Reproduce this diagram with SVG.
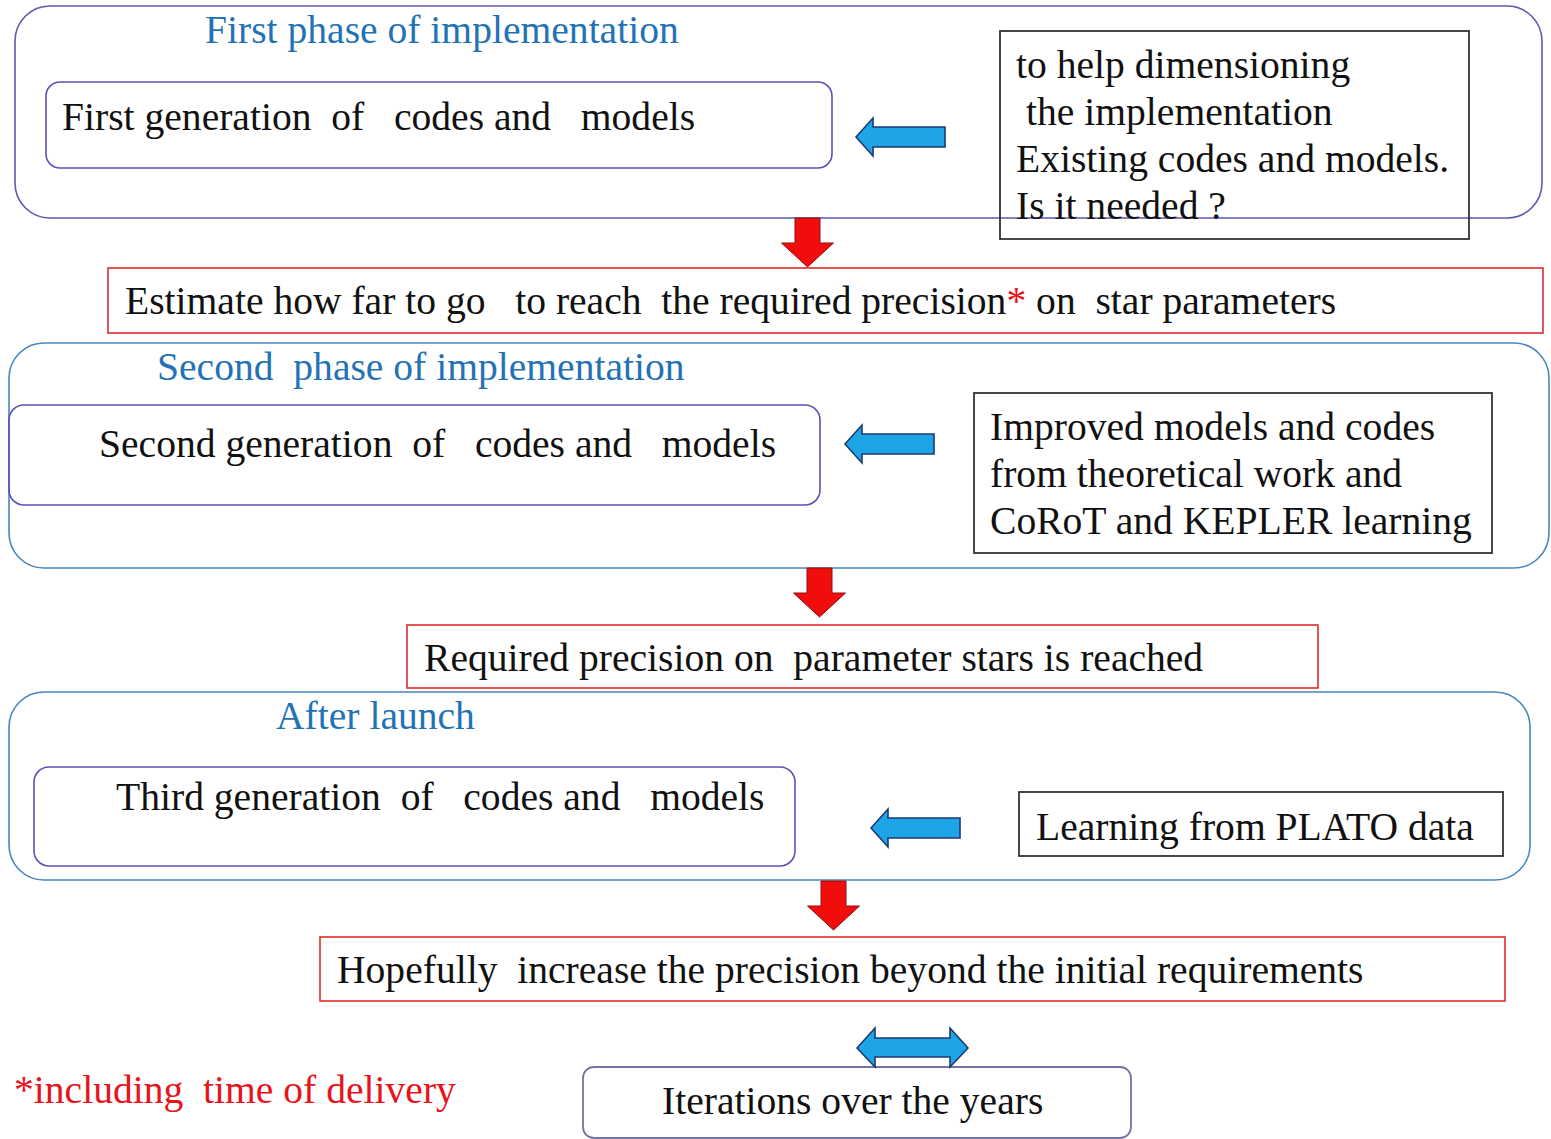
<svg xmlns="http://www.w3.org/2000/svg" width="1551" height="1139" viewBox="0 0 1551 1139">
<style>
text{font-family:"Liberation Serif","Times New Roman",serif;font-size:39.6px;fill:#111}
.title{fill:#2472b6}
.red{fill:#e8131b}
.phaseP{fill:none;stroke:#5c58b0;stroke-width:1.6}
.phaseB{fill:none;stroke:#4a86bf;stroke-width:1.6}
.inner{fill:none;stroke:#5a52b8;stroke-width:1.6}
.note{fill:none;stroke:#333;stroke-width:1.8}
.goal{fill:none;stroke:#e02a2a;stroke-width:1.6}
.iter{fill:#fff;stroke:#7474a4;stroke-width:1.8}
.barrow{fill:#1ea5e8;stroke:#1c3a6e;stroke-width:1.6;stroke-linejoin:miter}
.rarrow{fill:#f20d0d;stroke:#8a1010;stroke-width:1}
</style>
<defs>
<polygon id="leftArrow" points="0,0 17,-19 17,-10 89,-10 89,10 17,10 17,19"/>
<polygon id="downArrow" points="-12.5,0 12.5,0 12.5,25 26,25 0,49 -26,25 -12.5,25"/>
</defs>
<rect width="1551" height="1139" fill="#fff"/>

<g id="phase1">
<rect class="phaseP" x="15" y="6" width="1527" height="212" rx="35"/>
<text class="title" x="205" y="43">First phase of implementation</text>
</g>
<g id="gen1">
<rect class="inner" x="46" y="82" width="786" height="86" rx="14"/>
<text x="62" y="130" xml:space="preserve">First generation  of   codes and   models</text>
</g>
<g id="note1">
<rect class="note" x="1000" y="31" width="469" height="208"/>
<text x="1016" y="78">to help dimensioning</text>
<text x="1026" y="125">the implementation</text>
<text x="1016" y="172">Existing codes and models.</text>
<text x="1016" y="219">Is it needed ?</text>
</g>
<g id="goal1">
<rect class="goal" x="108" y="268" width="1435" height="65"/>
<text x="125" y="314" xml:space="preserve">Estimate how far to go   to reach  the required precision<tspan class="red">*</tspan> on  star parameters</text>
</g>

<g id="phase2">
<rect class="phaseB" x="9" y="343" width="1540" height="225" rx="35"/>
<text class="title" x="157" y="380" xml:space="preserve">Second  phase of implementation</text>
</g>
<g id="gen2">
<rect class="inner" x="9" y="405" width="811" height="100" rx="15"/>
<text x="99" y="457" xml:space="preserve">Second generation  of   codes and   models</text>
</g>
<g id="note2">
<rect class="note" x="974" y="393" width="518" height="160"/>
<text x="990" y="440">Improved models and codes</text>
<text x="990" y="487">from theoretical work and</text>
<text x="990" y="534">CoRoT and KEPLER learning</text>
</g>
<g id="goal2">
<rect class="goal" x="407" y="625" width="911" height="63"/>
<text x="424" y="671" xml:space="preserve">Required precision on  parameter stars is reached</text>
</g>

<g id="phase3">
<rect class="phaseB" x="9" y="692" width="1521" height="188" rx="35"/>
<text class="title" x="276" y="729">After launch</text>
</g>
<g id="gen3">
<rect class="inner" x="34" y="767" width="761" height="99" rx="15"/>
<text x="116" y="810" xml:space="preserve">Third generation  of   codes and   models</text>
</g>
<g id="note3">
<rect class="note" x="1019" y="792" width="484" height="64"/>
<text x="1036" y="840">Learning from PLATO data</text>
</g>
<g id="goal3">
<rect class="goal" x="320" y="937" width="1185" height="64"/>
<text x="337" y="983" xml:space="preserve">Hopefully  increase the precision beyond the initial requirements</text>
</g>

<g id="iterations">
<rect class="iter" x="583" y="1067" width="548" height="71" rx="11"/>
<text x="662" y="1114">Iterations over the years</text>
</g>
<g id="footnote">
<text class="red" x="14" y="1103" xml:space="preserve">*including  time of delivery</text>
</g>

<g id="connectors">
<use href="#leftArrow" class="barrow" x="856" y="137"/>
<use href="#leftArrow" class="barrow" x="845" y="444"/>
<use href="#leftArrow" class="barrow" x="871" y="828"/>
<use href="#downArrow" class="rarrow" x="807.5" y="218"/>
<use href="#downArrow" class="rarrow" x="819.5" y="568"/>
<use href="#downArrow" class="rarrow" x="833.5" y="881"/>
<polygon class="barrow" points="857,1048 875,1028 875,1038 950,1038 950,1028 968,1048 950,1067 950,1057 875,1057 875,1067"/>
</g>
</svg>
